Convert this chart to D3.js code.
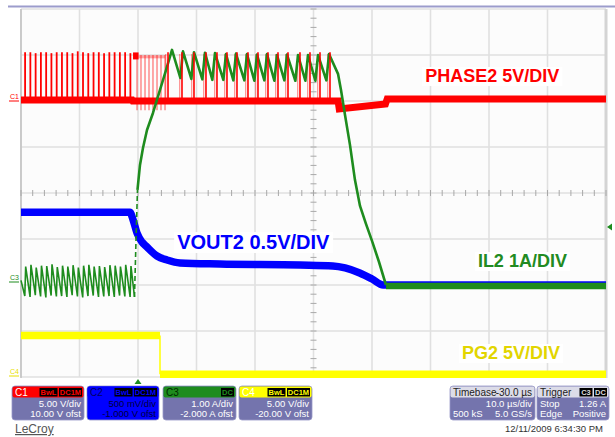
<!DOCTYPE html>
<html><head><meta charset="utf-8">
<script src="https://cdn.jsdelivr.net/npm/d3@7"></script>
<style>body{margin:0;background:#fff}svg{display:block;font-family:"Liberation Sans",Arial,Helvetica,sans-serif}</style>
</head><body><svg id="c" width="615" height="437"></svg>
<script>
// ---------- data ----------
const timeDivs = [-20,-10,0,10,20,30,40,50,60,70,80];     // µs, 10 µs/div
const vertDivs = [-4,-3,-2,-1,0,1,2,3,4];                  // screen divisions
const chNames  = ["C1","C2","C3","C4"];
const chVdiv   = [5, 0.5, 1, 5];
const chOffset = [10, -1, -2, -20];
const chColor  = ["#ff0000","#0000ff","#1e8c1e","#ffff00"];
const chScaleLabel = ["5.00 V/div","500 mV/div","1.00 A/div","5.00 V/div"];
const chOfstLabel  = ["10.00 V ofst","-1.000 V ofst","-2.000 A ofst","-20.00 V ofst"];

// PHASE2 (C1, volts)
const phasePreTimes = [-19.3,-18.4,-17.5,-16.6,-15.7,-14.8,-13.9,-13.0,-12.1,-11.2,-10.3,-9.4,-8.5,-7.6,-6.7,-5.8,-4.9,-4.0,-3.1,-2.2,-1.3];
const phasePreHigh  = [5.3,5.3,5.2,5.3,5.3,5.2,5.3,5.3,5.3,5.2,5.4,5.3,5.2,5.3,5.3,5.2,5.3,5.3,5.3,5.3,5.2];
const phaseEarlyTimes = [-0.17,0.51,1.20,1.88,2.56,3.25,3.93,4.62];
const phaseHiTimes = [5.13,7.52,9.57,11.62,13.50,15.21,16.92,18.80,20.51,22.22,23.93,25.64,27.69,29.40,31.11,32.82];
const phaseBase = [[-20,0.1],[-1.0,0.1],[-0.9,0.0],[34.2,0.0],[34.4,-0.87],[42.3,-0.33],[42.6,0.22],[80,0.22]];

// VOUT2 (C2, volts)
const vout = [[-20,0.79],[-1.37,0.79],[-0.85,0.71],[-0.17,0.565],[0.68,0.467],[1.54,0.413],[3.25,0.315],[4.96,0.272],[7.18,0.24],[14.0,0.228],[27.7,0.217],[33.3,0.207],[35.4,0.185],[37.9,0.13],[40.0,0.065],[41.9,0.0],[80,0.0]];

// IL2 (C3, amps)
const ilPreTimes   = [-19.2,-18.3,-17.4,-16.5,-15.6,-14.7,-13.8,-12.9,-12.0,-11.1,-10.2,-9.3,-8.4,-7.5,-6.6,-5.7,-4.8,-3.9,-3.0,-2.1,-1.2];
const ilPrePeaks   = [0.40,0.44,0.38,0.42,0.41,0.45,0.39,0.42,0.40,0.43,0.38,0.42,0.44,0.40,0.41,0.39,0.43,0.42,0.40,0.44,0.41];
const ilPreTroughs = [-0.24,-0.26,-0.22,-0.25,-0.27,-0.23,-0.25,-0.24,-0.26,-0.22,-0.25,-0.27,-0.24,-0.23,-0.26,-0.25,-0.24,-0.26,-0.23,-0.25,-0.26];
const ilRise = [[-0.60,-0.26],[-0.34,0.98],[-0.09,2.07],[0.34,2.61],[0.85,2.98],[1.54,3.37],[2.56,3.74],[3.76,4.24],[4.79,4.67],[5.81,5.11]];
const ilHiPeakTimes = [7.69,9.57,11.45,13.16,15.04,16.75,18.63,20.34,22.05,23.76,25.47,27.35,29.06,30.77,32.65];
const ilHiPeaks     = [5.08,5.06,5.05,5.04,5.02,5.03,5.02,5.01,5.02,5.00,5.01,5.00,5.00,5.00,5.02];
const ilHiTroughs   = [4.50,4.48,4.47,4.46,4.46,4.45,4.45,4.44,4.45,4.44,4.45,4.44,4.44,4.44,4.45];
const ilFall = [[34.19,4.59],[34.70,4.24],[35.38,3.70],[36.24,3.04],[37.09,2.28],[37.95,1.72],[38.97,1.33],[40.00,0.96],[41.20,0.50],[42.39,0.0]];
const ilFlat = [[42.39,-0.02],[80,-0.02]];

// PG2 (C4, volts)
const pg = [[-20,4.5],[3.76,4.5],[3.76,0.3],[80,0.3]];

const triggerTime = 0, triggerLevel = 1.26;
const labels = [
  {text:"PHASE2 5V/DIV", color:"#ff0000", t:49.1, size:18, base:82},
  {text:"VOUT2 0.5V/DIV", color:"#0000ff", t:6.7, size:20, base:249},
  {text:"IL2 1A/DIV", color:"#228b22", t:58.1, size:18, base:267},
  {text:"PG2 5V/DIV", color:"#e2d500", t:55.4, size:18, base:359}
];

// ---------- scales ----------
const svg = d3.select("#c");
const X0=21, X1=606, Y0=9, Y1=377;
const x = d3.scaleLinear().domain([-20,80]).range([X0,X1]);
const yDiv = d3.scaleLinear().domain([-4,4]).range([Y1,Y0]);
const ch = chVdiv.map((v,i)=>d3.scaleLinear().domain([-4*v-chOffset[i], 4*v-chOffset[i]]).range([Y1,Y0]));

// frame
svg.append("line").attr("x1",8).attr("x2",615).attr("y1",6.5).attr("y2",6.5).attr("stroke","#9c9ccc").attr("stroke-width",2);
svg.append("rect").attr("x",X0).attr("y",Y0).attr("width",X1-X0).attr("height",Y1-Y0).attr("fill","#fcfcfc");

// grid
const g = svg.append("g");
g.selectAll(".vg").data(timeDivs).join("line").attr("x1",d=>x(d)).attr("x2",d=>x(d)).attr("y1",Y0).attr("y2",Y1)
  .attr("stroke","#e0e0e0").attr("stroke-width",1.6);
g.selectAll(".hg").data(vertDivs).join("line").attr("y1",d=>yDiv(d)).attr("y2",d=>yDiv(d)).attr("x1",X0).attr("x2",X1)
  .attr("stroke","#e0e0e0").attr("stroke-width",1.6);
g.append("line").attr("x1",X0).attr("x2",X0).attr("y1",Y0).attr("y2",Y1+1).attr("stroke","#c4c4c4").attr("stroke-width",1.6);
g.append("line").attr("x1",X1).attr("x2",X1).attr("y1",Y0).attr("y2",Y1+1).attr("stroke","#d4d4d4").attr("stroke-width",3);
// minor ticks on centre axes
const xMinor = d3.range(-20,80.01,2), yMinor = d3.range(-4,4.01,0.2);
g.selectAll(".xm").data(xMinor).join("line").attr("x1",d=>x(d)).attr("x2",d=>x(d)).attr("y1",yDiv(0)-3).attr("y2",yDiv(0)+3).attr("stroke","#a8a8a8").attr("stroke-width",1);
g.selectAll(".ym").data(yMinor).join("line").attr("y1",d=>yDiv(d)).attr("y2",d=>yDiv(d)).attr("x1",x(30)-3).attr("x2",x(30)+3).attr("stroke","#a8a8a8").attr("stroke-width",1);

// labels with white boxes
labels.forEach(l=>{
  const t = svg.append("text").attr("x",x(l.t)).attr("y",l.base).attr("fill",l.color).attr("font-weight","bold")
    .attr("font-size",l.size).text(l.text);
  const b = t.node().getBBox();
  svg.insert("rect", ()=>t.node()).attr("x",b.x-3).attr("y",b.y+1).attr("width",b.width+6).attr("height",b.height-1).attr("fill","#fff");
});

const line = s => d3.line().x(d=>x(d[0])).y(d=>s(d[1]));

// PG2 (yellow)
const yS = ch[3];
for (let i=0;i<pg.length-1;i++){
  const a=pg[i], b=pg[i+1], vert = a[0]===b[0];
  svg.append("path").attr("d",line(yS)([a,b])).attr("fill","none").attr("stroke","#ffff00")
    .attr("stroke-width",vert?1.5:7.5);
}

// VOUT2 (blue)
svg.append("path").attr("d",line(ch[1]).curve(d3.curveMonotoneX)(vout)).attr("fill","none").attr("stroke","#0000ff").attr("stroke-width",7.5);

// PHASE2 (red)
const rS = ch[0];
svg.append("path").attr("d",line(rS)(phaseBase)).attr("fill","none").attr("stroke","#ff0000").attr("stroke-width",7);
svg.selectAll(".pp").data(phasePreTimes).join("line").attr("x1",d=>x(d)).attr("x2",d=>x(d))
  .attr("y1",rS(0.1)).attr("y2",(d,i)=>rS(phasePreHigh[i])).attr("stroke","#ff0000").attr("stroke-width",1.8);
svg.selectAll(".pe").data(phaseEarlyTimes).join("line").attr("x1",d=>x(d)).attr("x2",d=>x(d))
  .attr("y1",rS(-1.0)).attr("y2",rS(5.0)).attr("stroke","rgba(255,0,0,0.45)").attr("stroke-width",1.5);
svg.append("path").attr("d",line(rS)([[-0.85,4.9],[0.1,4.9]])).attr("stroke","#ff0000").attr("stroke-width",7);
svg.append("path").attr("d",line(rS)([[0.1,4.8],[4.6,4.8]])).attr("stroke","rgba(255,0,0,0.35)").attr("stroke-width",3);
svg.selectAll(".ph2").data(phaseHiTimes).join("line").attr("x1",d=>x(d-0.4)).attr("x2",d=>x(d-0.4))
  .attr("y1",rS(-0.3)).attr("y2",rS(5.1)).attr("stroke","rgba(255,0,0,0.4)").attr("stroke-width",1.3);

// IL2 (green)
const gS = ch[2];
const ilPts = [[-20,0.1]];
ilPreTimes.forEach((t,i)=>{ ilPts.push([t-0.15, ilPreTroughs[i]]); ilPts.push([t, ilPrePeaks[i]]); });
svg.append("path").attr("d",line(gS)(ilPts.concat([ilRise[0]]))).attr("fill","none").attr("stroke","#1e8c1e").attr("stroke-width",1.6);
svg.append("path").attr("d",line(gS)(ilRise.slice(0,3))).attr("fill","none").attr("stroke","#1e8c1e").attr("stroke-width",1.6).attr("stroke-dasharray","5,3");
const hi = ilRise.slice(2);
ilHiPeakTimes.forEach((t,i)=>{ hi.push([t-0.45, ilHiTroughs[i]]); hi.push([t, ilHiPeaks[i]]); });
svg.append("path").attr("d",line(gS)(hi.concat(ilFall))).attr("fill","none").attr("stroke","#1e8c1e").attr("stroke-width",2.6).attr("stroke-linejoin","round");
svg.append("path").attr("d",line(gS)(ilFlat)).attr("fill","none").attr("stroke","#1e8c1e").attr("stroke-width",6.5);

// red hi spikes on top
svg.selectAll(".ph").data(phaseHiTimes).join("line").attr("x1",d=>x(d)).attr("x2",d=>x(d))
  .attr("y1",rS(0)).attr("y2",rS(5.3)).attr("stroke","#ff0000").attr("stroke-width",1.6);

// trigger markers
const tx = x(triggerTime);
svg.append("path").attr("d",`M${tx},${Y1+2}L${tx-3.5},${Y1+7}L${tx+3.5},${Y1+7}Z`).attr("fill","#1e8c1e");
const ty = gS(triggerLevel);
svg.append("path").attr("d",`M${X1+1},${ty}L${X1+6},${ty-3.5}L${X1+6},${ty+3.5}Z`).attr("fill","#1e8c1e");

// channel ground markers
[[0,0,"C1"],[2,0,"C3"],[3,0,"C4"]].forEach(([i,v,n])=>{
  const yy = ch[i](v) - (i===3?2:(i===2?4:1));
  const c = chColor[i]==="#ffff00"?"#e8e000":chColor[i];
  svg.append("text").attr("x",10).attr("y",yy-1).attr("font-size",7).attr("fill",c).text(n);
  svg.append("line").attr("x1",9).attr("x2",19).attr("y1",yy+1).attr("y2",yy+1).attr("stroke",c).attr("stroke-width",1);
});

// ---------- info panel ----------
const bodyCol = "#7474ad";
const boxX = [12,87,163,239], boxW = [72,72,73,73];
const badges = [["BwL","DC1M"],["BwL","DC1M"],["DC"],["BwL","DC1M"]];
const headTxt = ["#ffffff","#000060","#002a00","#ffffff"];
const bodyTxt = ["#ffffff","#000040","#ffffff","#ffffff"];
chNames.forEach((n,i)=>{
  const bx=boxX[i], bw=boxW[i], by=386;
  svg.append("rect").attr("x",bx).attr("y",by).attr("width",bw).attr("height",34).attr("rx",3).attr("fill",i===1?"#0000ff":bodyCol).attr("stroke","#9898c8").attr("stroke-width",0.8);
  svg.append("rect").attr("x",bx+0.5).attr("y",by+0.5).attr("width",bw-1).attr("height",11).attr("rx",2).attr("fill",chColor[i]);
  svg.append("text").attr("x",bx+3).attr("y",by+10).attr("font-size",10).attr("fill",headTxt[i]).text(n);
  let rx = bx+bw-2;
  badges[i].slice().reverse().forEach(bt=>{
    const w = bt.length*5+3;
    rx -= w;
    svg.append("rect").attr("x",rx).attr("y",by+2).attr("width",w).attr("height",8.5).attr("fill","#000");
    svg.append("text").attr("x",rx+w/2).attr("y",by+9).attr("text-anchor","middle").attr("font-size",7.5).attr("font-weight","bold").attr("fill",chColor[i]).text(bt);
    rx -= 1.5;
  });
  svg.append("text").attr("x",bx+bw-3).attr("y",by+21).attr("text-anchor","end").attr("font-size",9.5).attr("fill",bodyTxt[i]).text(chScaleLabel[i]);
  svg.append("text").attr("x",bx+bw-3).attr("y",by+31).attr("text-anchor","end").attr("font-size",9.5).attr("fill",bodyTxt[i]).text(chOfstLabel[i]);
});
function infoBox(bx,bw,head,headR,rows,badgeList){
  const by=386;
  svg.append("rect").attr("x",bx).attr("y",by).attr("width",bw).attr("height",34).attr("rx",3).attr("fill",bodyCol).attr("stroke","#9898c8").attr("stroke-width",0.8);
  svg.append("rect").attr("x",bx+0.5).attr("y",by+0.5).attr("width",bw-1).attr("height",11).attr("rx",2).attr("fill","#dcdce8");
  svg.append("text").attr("x",bx+3).attr("y",by+10).attr("font-size",10).attr("fill","#222").text(head);
  if(headR) svg.append("text").attr("x",bx+bw-3).attr("y",by+10).attr("text-anchor","end").attr("font-size",10).attr("fill","#222").text(headR);
  let rx = bx+bw-2;
  (badgeList||[]).slice().reverse().forEach(bt=>{
    const w = bt.length*5+3; rx -= w;
    svg.append("rect").attr("x",rx).attr("y",by+2).attr("width",w).attr("height",8.5).attr("fill","#000");
    svg.append("text").attr("x",rx+w/2).attr("y",by+9).attr("text-anchor","middle").attr("font-size",7.5).attr("font-weight","bold").attr("fill","#ddd").text(bt);
    rx -= 1.5;
  });
  rows.forEach((r,k)=>{
    const yy = by+21+k*10;
    if(r[0]) svg.append("text").attr("x",bx+3).attr("y",yy).attr("font-size",9.5).attr("fill","#fff").text(r[0]);
    svg.append("text").attr("x",bx+bw-3).attr("y",yy).attr("text-anchor","end").attr("font-size",9.5).attr("fill","#fff").text(r[1]);
  });
}
infoBox(450,85,"Timebase","-30.0 µs",[["","10.0 µs/div"],["500 kS","5.0 GS/s"]]);
infoBox(537,72,"Trigger",null,[["Stop","1.26 A"],["Edge","Positive"]],["C3","DC"]);

svg.append("text").attr("x",603).attr("y",432).attr("text-anchor","end").attr("font-size",9.5).attr("fill","#333").text("12/11/2009 6:34:30 PM");
svg.append("text").attr("x",15).attr("y",433).attr("font-size",12).attr("fill","#555").attr("text-decoration","underline").text("LeCroy");
</script></body></html>
